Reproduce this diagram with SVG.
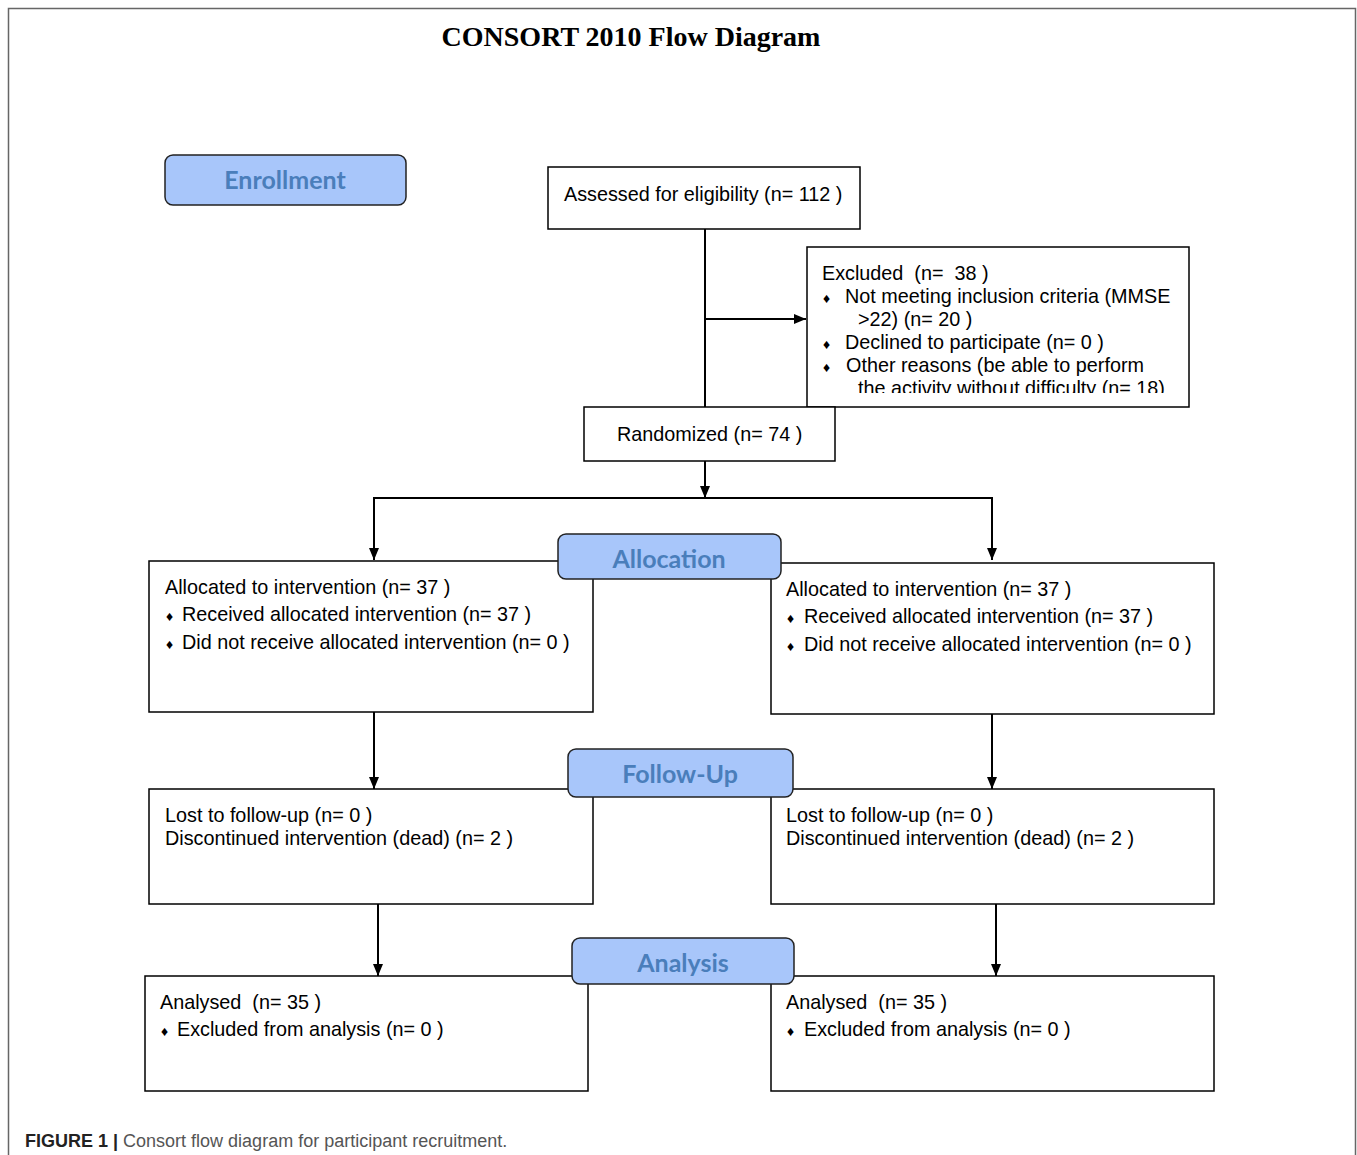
<svg xmlns="http://www.w3.org/2000/svg" width="1357" height="1155" viewBox="0 0 1357 1155">
<defs>
<marker id="ah" viewBox="0 0 12 10" refX="12" refY="5" markerWidth="12" markerHeight="10" markerUnits="userSpaceOnUse" orient="auto">
<path d="M0,0 L12,5 L0,10 z" fill="#000"/>
</marker>
<clipPath id="exclip"><rect x="808" y="248" width="380" height="145"/></clipPath>
</defs>
<style>
.box{fill:#fff;stroke:#000;stroke-width:1.5}
.lab{fill:#a8c6fa;stroke:#222;stroke-width:1.5}
.labt{font-family:Lato,"Open Sans",sans-serif;font-weight:bold;font-size:25px;fill:#4a7ebb;text-anchor:middle}
.t{font-family:"Liberation Sans",Arial,sans-serif;font-size:19.8px;fill:#000;white-space:pre}
.b{font-size:14px}
.con{fill:none;stroke:#000;stroke-width:2}
</style>
<rect width="1357" height="1155" fill="#fff"/>
<path d="M8.5,1155 V8.5 H1355.5 V1155" fill="none" stroke="#666" stroke-width="1.5"/>
<text x="631" y="46" text-anchor="middle" font-family="'Liberation Serif',serif" font-weight="bold" font-size="28">CONSORT 2010 Flow Diagram</text>

<g id="connectors">
<line class="con" x1="705" y1="229" x2="705" y2="407"/>
<line class="con" x1="705" y1="319" x2="806" y2="319" marker-end="url(#ah)"/>
<line class="con" x1="705" y1="461" x2="705" y2="498" marker-end="url(#ah)"/>
<polyline class="con" points="374,560 374,498 992,498 992,560"/>
<line class="con" x1="374" y1="520" x2="374" y2="560" marker-end="url(#ah)"/>
<line class="con" x1="992" y1="520" x2="992" y2="560" marker-end="url(#ah)"/>
<line class="con" x1="374" y1="712" x2="374" y2="789" marker-end="url(#ah)"/>
<line class="con" x1="992" y1="714" x2="992" y2="789" marker-end="url(#ah)"/>
<line class="con" x1="378" y1="904" x2="378" y2="976" marker-end="url(#ah)"/>
<line class="con" x1="996" y1="904" x2="996" y2="976" marker-end="url(#ah)"/>
</g>

<g id="enrollment">
<rect class="lab" x="165" y="155" width="241" height="50" rx="8"/>
<text class="labt" x="285" y="189">Enrollment</text>
</g>

<g id="assessed">
<rect class="box" x="548" y="167" width="312" height="62"/>
<text class="t" x="564" y="201">Assessed for eligibility (n= 112 )</text>
</g>

<g id="excluded">
<rect class="box" x="807" y="247" width="382" height="160"/>
<g clip-path="url(#exclip)">
<text class="t" x="822" y="280">Excluded  (n=  38 )</text>
<text class="t" x="823" y="303"><tspan class="b">♦</tspan></text>
<text class="t" x="845" y="303">Not meeting inclusion criteria (MMSE</text>
<text class="t" x="858" y="326">&gt;22) (n= 20 )</text>
<text class="t" x="823" y="349"><tspan class="b">♦</tspan></text>
<text class="t" x="845" y="349">Declined to participate (n= 0 )</text>
<text class="t" x="823" y="372"><tspan class="b">♦</tspan></text>
<text class="t" x="846" y="372">Other reasons (be able to perform</text>
<text class="t" x="858" y="395">the activity without difficulty (n= 18)</text>
</g>
</g>

<g id="randomized">
<rect class="box" x="584" y="407" width="251" height="54"/>
<text class="t" x="617" y="441">Randomized (n= 74 )</text>
</g>

<g id="alloc-left">
<rect class="box" x="149" y="561" width="444" height="151"/>
<text class="t" x="165" y="594">Allocated to intervention (n= 37 )</text>
<text class="t" x="166" y="621"><tspan class="b">♦</tspan></text>
<text class="t" x="182" y="621">Received allocated intervention (n= 37 )</text>
<text class="t" x="166" y="649"><tspan class="b">♦</tspan></text>
<text class="t" x="182" y="649">Did not receive allocated intervention (n= 0 )</text>
</g>

<g id="alloc-right">
<rect class="box" x="771" y="563" width="443" height="151"/>
<text class="t" x="786" y="596">Allocated to intervention (n= 37 )</text>
<text class="t" x="787" y="623"><tspan class="b">♦</tspan></text>
<text class="t" x="804" y="623">Received allocated intervention (n= 37 )</text>
<text class="t" x="787" y="651"><tspan class="b">♦</tspan></text>
<text class="t" x="804" y="651">Did not receive allocated intervention (n= 0 )</text>
</g>

<g id="allocation">
<rect class="lab" x="558" y="534" width="223" height="45" rx="8"/>
<text class="labt" x="669" y="568">Allocation</text>
</g>

<g id="fu-left">
<rect class="box" x="149" y="789" width="444" height="115"/>
<text class="t" x="165" y="822">Lost to follow-up (n= 0 )</text>
<text class="t" x="165" y="845">Discontinued intervention (dead) (n= 2 )</text>
</g>

<g id="fu-right">
<rect class="box" x="771" y="789" width="443" height="115"/>
<text class="t" x="786" y="822">Lost to follow-up (n= 0 )</text>
<text class="t" x="786" y="845">Discontinued intervention (dead) (n= 2 )</text>
</g>

<g id="followup">
<rect class="lab" x="568" y="749" width="225" height="48" rx="8"/>
<text class="labt" x="680" y="783">Follow-Up</text>
</g>

<g id="an-left">
<rect class="box" x="145" y="976" width="443" height="115"/>
<text class="t" x="160" y="1009">Analysed  (n= 35 )</text>
<text class="t" x="161" y="1036"><tspan class="b">♦</tspan></text>
<text class="t" x="177" y="1036">Excluded from analysis (n= 0 )</text>
</g>

<g id="an-right">
<rect class="box" x="771" y="976" width="443" height="115"/>
<text class="t" x="786" y="1009">Analysed  (n= 35 )</text>
<text class="t" x="787" y="1036"><tspan class="b">♦</tspan></text>
<text class="t" x="804" y="1036">Excluded from analysis (n= 0 )</text>
</g>

<g id="analysis">
<rect class="lab" x="572" y="938" width="222" height="46" rx="8"/>
<text class="labt" x="683" y="972">Analysis</text>
</g>

<text x="25" y="1147" font-family="'Liberation Sans',Arial,sans-serif" font-size="18"><tspan font-weight="bold" fill="#222">FIGURE 1 | </tspan><tspan fill="#555">Consort flow diagram for participant recruitment.</tspan></text>
</svg>
